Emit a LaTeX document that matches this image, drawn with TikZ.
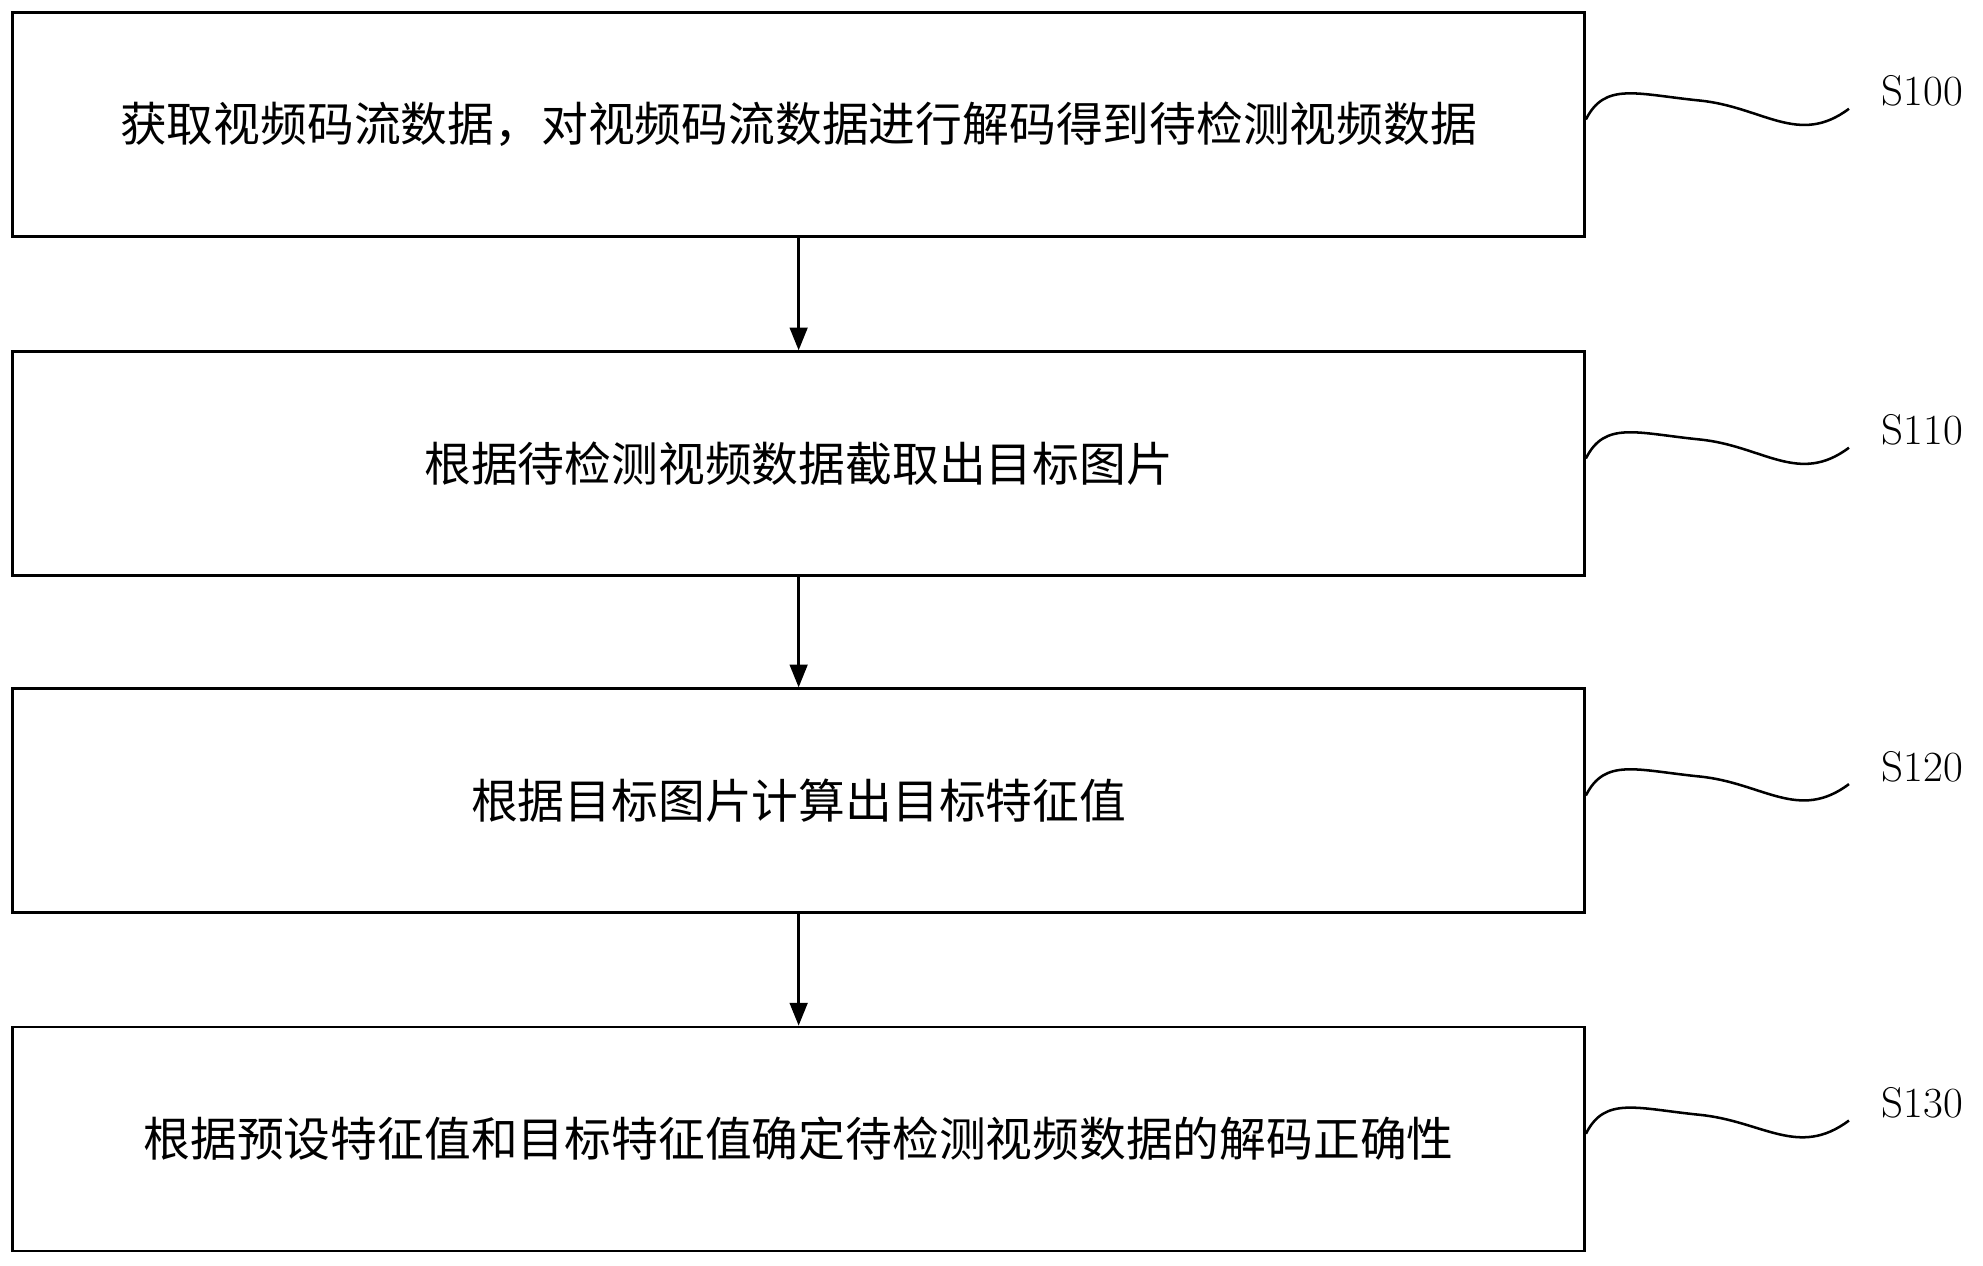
\documentclass[tikz,border=0pt]{standalone}
\usepackage{fontspec}
\newfontfamily\cjk{Noto Sans CJK SC}
\usetikzlibrary{arrows.meta}
\begin{document}
\begin{tikzpicture}[x=0.5pt,y=-0.5pt,
  stepbox/.style={draw,line width=1pt,minimum width=621.5pt,minimum height=88.5pt,inner sep=0pt,font=\cjk\fontsize{18.5}{20}\selectfont},
  arr/.style={-{Triangle[length=9pt,width=7pt]},line width=1pt},
  wave/.style={line width=1pt},
  lab/.style={font=\fontsize{17}{19}\selectfont,anchor=center}]
\useasboundingbox (0,0) rectangle (1568,1001);
\node[stepbox] (b1) at (631.5,98.5) {获取视频码流数据，对视频码流数据进行解码得到待检测视频数据};
\node[stepbox] (b2) at (631.5,366.5) {根据待检测视频数据截取出目标图片};
\node[stepbox] (b3) at (631.5,633) {根据目标图片计算出目标特征值};
\node[stepbox] (b4) at (631.5,900.5) {根据预设特征值和目标特征值确定待检测视频数据的解码正确性};
\draw[arr] (b1.south) -- (b2.north);
\draw[arr] (b2.south) -- (b3.north);
\draw[arr] (b3.south) -- (b4.north);
\foreach \n/\t/\y in {b1/S100/72,b2/S110/340,b3/S120/606,b4/S130/872}{
  \node[lab] (l\n) at (1520,\y) {\t};
  \coordinate (w\n) at (1462,\y+14);
  \draw[wave] ([yshift=2pt]\n.east) .. controls +(15,-30) and +(-50,-5) .. ++(90,-15) .. controls +(50,5) and +(-40,30) .. (w\n);
}
\end{tikzpicture}
\end{document}
